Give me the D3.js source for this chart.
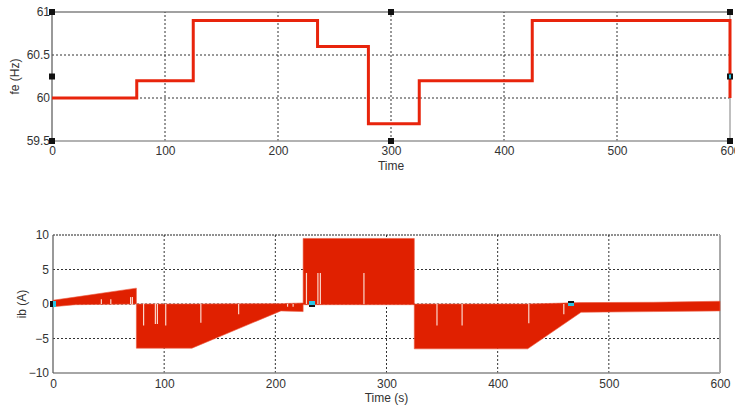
<!DOCTYPE html>
<html>
<head>
<meta charset="utf-8">
<script src="https://cdn.jsdelivr.net/npm/d3@7"></script>
<style>
  html, body { margin: 0; padding: 0; background: #fff; }
  svg { display: block; font-family: "Liberation Sans", Arial, sans-serif; }
  .tick text { fill: #333; font-size: 12px; }
</style>
</head>
<body>
<svg id="chart" width="735" height="406"></svg>
<script>
// Grid frequency setpoint (step changes over time)
const feTimes  = [0, 75, 125, 235, 280, 325, 425, 600, 600];
const feValues = [60, 60.2, 60.9, 60.6, 59.7, 60.2, 60.9, 60.9, 60];

// Phase-b current: envelope of the fast oscillation
const ibTimes = [0, 20, 75, 75, 125, 205, 225, 225, 325, 325, 427, 475, 540, 600];
const ibUpper = [0.55, 1.0, 2.3, 0, 0, 0.05, 0.15, 9.5, 9.5, 0, 0, 0.2, 0.25, 0.4];
const ibLower = [-0.4, -0.1, 0, -6.4, -6.4, -1.0, -1.1, -0.1, -0.1, -6.5, -6.5, -1.2, -1.1, -1.0];

// Short drop-outs in the current trace (time, depth reached)
const dropTimes  = [43.5, 52, 69.8, 71.4, 81.5, 92.1, 93.9, 101.4, 133, 167, 211, 216, 228, 238.3, 240.5, 279.7, 345.4, 368, 428, 459.5];
const dropLevels = [0.7, 0.7, 1.0, 1.0, -3.1, -2.9, -2.9, -3.1, -2.7, -1.5, -0.4, -0.4, 4.5, 4.5, 4.5, 4.5, -3.1, -3.1, -2.8, -1.5];

// Axis ticks
const timeTicks = [0, 100, 200, 300, 400, 500, 600];
const feTicks = [59.5, 60, 60.5, 61];
const feTickLabels = ["59.5", "60", "60.5", "61"];
const ibTicks = [-10, -5, 0, 5, 10];

const svg = d3.select("#chart");

function dottedGrid(g, x, y, xs, ys) {
  const [x0, x1] = x.range(), [y0, y1] = y.range();
  xs.forEach(v => g.append("line")
    .attr("x1", x(v)).attr("x2", x(v)).attr("y1", y0).attr("y2", y1)
    .attr("stroke", "#333").attr("stroke-width", 1).attr("stroke-dasharray", "2,2"));
  ys.forEach(v => g.append("line")
    .attr("x1", x0).attr("x2", x1).attr("y1", y(v)).attr("y2", y(v))
    .attr("stroke", "#333").attr("stroke-width", 1).attr("stroke-dasharray", "2,2"));
}

function handle(g, cx, cy, fill, inner) {
  g.append("rect").attr("x", cx - 3).attr("y", cy - 3).attr("width", 6).attr("height", 6).attr("fill", fill);
  if (inner) g.append("rect").attr("x", cx - 1).attr("y", cy - 2).attr("width", 2).attr("height", 4).attr("fill", inner);
}

// ---------- Upper panel: fe (Hz) ----------
{
  const x = d3.scaleLinear().domain([0, 600]).range([52, 730]);
  const y = d3.scaleLinear().domain([59.5, 61]).range([141, 12]);
  const g = svg.append("g");

  dottedGrid(g, x, y, [100, 200, 300, 400, 500], [60, 60.5]);

  // frame
  g.append("line").attr("x1", 52).attr("x2", 730).attr("y1", 12).attr("y2", 12).attr("stroke", "#444").attr("stroke-width", 1.2);
  g.append("line").attr("x1", 52).attr("x2", 730).attr("y1", 141).attr("y2", 141).attr("stroke", "#999").attr("stroke-width", 1.5);
  g.append("line").attr("x1", 52).attr("x2", 52).attr("y1", 12).attr("y2", 141).attr("stroke", "#555").attr("stroke-width", 1.2);
  g.append("line").attr("x1", 730).attr("x2", 730).attr("y1", 12).attr("y2", 141).attr("stroke", "#aaa").attr("stroke-width", 1.5);

  const line = d3.line().x((d, i) => x(feTimes[i])).y(d => y(d)).curve(d3.curveStepAfter);
  g.append("path").datum(feValues).attr("d", line)
    .attr("fill", "none").attr("stroke", "#e8240c").attr("stroke-width", 3);

  const xa = g.append("g").attr("transform", "translate(0,141)")
    .call(d3.axisBottom(x).tickValues(timeTicks).tickSize(0).tickPadding(5).tickFormat(d3.format("d")));
  xa.select(".domain").remove();
  const ya = g.append("g").attr("transform", "translate(52,0)")
    .call(d3.axisLeft(y).tickValues(feTicks).tickSize(0).tickPadding(2).tickFormat((d, i) => feTickLabels[i]));
  ya.select(".domain").remove();

  g.append("text").attr("x", x(300)).attr("y", 170).attr("text-anchor", "middle")
    .attr("font-size", 12).attr("fill", "#333").text("Time");
  g.append("text").attr("transform", `translate(19,${y(60.25)}) rotate(-90)`).attr("text-anchor", "middle")
    .attr("font-size", 12).attr("fill", "#333").text("fe (Hz)");

  // selection handles
  [[0, 61], [0, 59.5], [300, 61], [300, 59.5], [600, 61], [600, 59.5], [0, 60.25]]
    .forEach(([t, v]) => handle(g, x(t), y(v), "#111"));
  handle(g, x(600), y(60.25), "#111", "#29c6e6");
}

// ---------- Lower panel: ib (A) ----------
{
  const x = d3.scaleLinear().domain([0, 600]).range([53, 720]);
  const y = d3.scaleLinear().domain([-10, 10]).range([373, 235]);
  const g = svg.append("g");

  dottedGrid(g, x, y, [100, 200, 300, 400, 500], [-5, 0, 5]);

  // frame
  g.append("line").attr("x1", 53).attr("x2", 720).attr("y1", 235).attr("y2", 235).attr("stroke", "#222").attr("stroke-width", 1.2).attr("stroke-dasharray", "2,1");
  g.append("line").attr("x1", 53).attr("x2", 720).attr("y1", 373).attr("y2", 373).attr("stroke", "#888").attr("stroke-width", 1.5);
  g.append("line").attr("x1", 53).attr("x2", 53).attr("y1", 235).attr("y2", 373).attr("stroke", "#555").attr("stroke-width", 1.2);
  g.append("line").attr("x1", 720).attr("x2", 720).attr("y1", 235).attr("y2", 373).attr("stroke", "#aaa").attr("stroke-width", 2);

  const area = d3.area()
    .x((d, i) => x(ibTimes[i]))
    .y0((d, i) => y(ibLower[i]))
    .y1((d, i) => y(ibUpper[i]));
  g.append("path").datum(ibTimes).attr("d", area)
    .attr("fill", "#e02000").attr("stroke", "#ec5a40").attr("stroke-width", 1).attr("stroke-opacity", 0.6);

  dropTimes.forEach((t, i) => g.append("line")
    .attr("x1", x(t)).attr("x2", x(t)).attr("y1", y(0)).attr("y2", y(dropLevels[i]))
    .attr("stroke", "#fbd8cc").attr("stroke-width", 1.2));

  const xa = g.append("g").attr("transform", "translate(0,373)")
    .call(d3.axisBottom(x).tickValues(timeTicks).tickSize(0).tickPadding(6).tickFormat(d3.format("d")));
  xa.select(".domain").remove();
  const ya = g.append("g").attr("transform", "translate(53,0)")
    .call(d3.axisLeft(y).tickValues(ibTicks).tickSize(0).tickPadding(4).tickFormat(d3.format("d")));
  ya.select(".domain").remove();

  g.append("text").attr("x", x(300)).attr("y", 402).attr("text-anchor", "middle")
    .attr("font-size", 12).attr("fill", "#333").text("Time (s)");
  g.append("text").attr("transform", `translate(26,${y(0)}) rotate(-90)`).attr("text-anchor", "middle")
    .attr("font-size", 12).attr("fill", "#333").text("ib (A)");

  // data cursor markers
  g.append("rect").attr("x", x(0) - 3).attr("y", y(0) - 3).attr("width", 3).attr("height", 6).attr("fill", "#111");
  g.append("rect").attr("x", x(0)).attr("y", y(0) - 3).attr("width", 3).attr("height", 6).attr("fill", "#29c6e6");
  g.append("rect").attr("x", x(233) - 3).attr("y", y(0) - 3).attr("width", 6).attr("height", 4).attr("fill", "#29c6e6");
  g.append("rect").attr("x", x(233) - 3).attr("y", y(0) + 1).attr("width", 6).attr("height", 2).attr("fill", "#111");
  g.append("rect").attr("x", x(466) - 3).attr("y", y(0) - 3).attr("width", 6).attr("height", 2).attr("fill", "#111");
  g.append("rect").attr("x", x(466) - 3).attr("y", y(0) - 1).attr("width", 6).attr("height", 3).attr("fill", "#29c6e6");
}
</script>
</body>
</html>
